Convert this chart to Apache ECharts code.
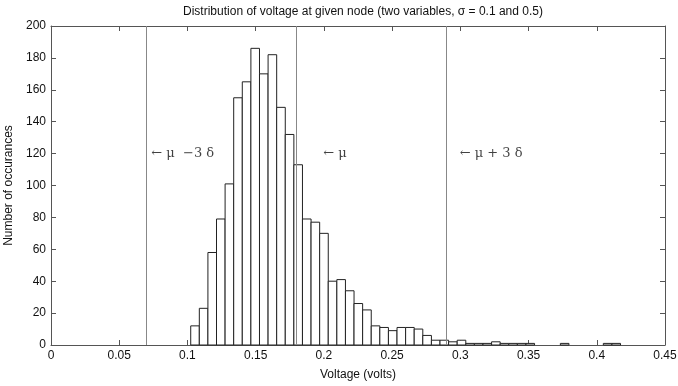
<!DOCTYPE html>
<html>
<head>
<meta charset="utf-8">
<script src="https://cdn.jsdelivr.net/npm/echarts@6/dist/echarts.min.js"></script>
<style>
  html, body { margin: 0; padding: 0; background: #fff; }
  #chart { width: 678px; height: 386px; }
</style>
</head>
<body>
<div id="chart"></div>
<script>
// histogram: 50 bins, first edge and width
var binStart = 0.1024;
var binWidth = 0.0063;
var counts = [12, 23, 58, 79, 101, 155, 165, 186, 170, 182,
              149, 132, 113, 79, 77, 70, 40, 41, 34, 26,
              22, 12, 11, 9, 11, 11, 10, 6, 3, 3,
              2, 3, 1, 1, 1, 2, 1, 1, 1, 1,
              0, 0, 0, 1, 0, 0, 0, 0, 1, 1];

// mean and +/- 3 sigma markers
var markerX = [0.0725, 0.180, 0.2875];
var markerText = ['\u2190 \u03bc  \u22123 \u03b4', '\u2190 \u03bc', '\u2190 \u03bc + 3 \u03b4'];
var markerTextX = [0.0735, 0.1995, 0.2995];
var markerTextY = 120;

var xTicks = [0, 0.05, 0.1, 0.15, 0.2, 0.25, 0.3, 0.35, 0.4, 0.45];
var yTicks = [0, 20, 40, 60, 80, 100, 120, 140, 160, 180, 200];

var bars = [];
for (var i = 0; i < counts.length; i++) {
  if (counts[i] > 0) {
    bars.push([binStart + i * binWidth, binStart + (i + 1) * binWidth, counts[i]]);
  }
}

var labelPts = [];
for (var k = 0; k < markerText.length; k++) {
  labelPts.push({ value: [markerTextX[k], markerTextY], name: markerText[k] });
}

var chart = echarts.init(document.getElementById('chart'));
var font = 'Liberation Sans, Arial, sans-serif';
var frameColor = '#555';

function axisBase(show) {
  return {
    axisLine: { show: true, onZero: false, lineStyle: { color: frameColor, width: 1 } },
    axisTick: { show: true, inside: true, length: 5, lineStyle: { color: frameColor } },
    splitLine: { show: false },
    axisLabel: { show: show, color: '#111', fontFamily: font, fontSize: 12 }
  };
}

var xBottom = Object.assign(axisBase(true), {
  type: 'value', position: 'bottom', min: 0, max: 0.45, interval: 0.05,
  name: 'Voltage (volts)', nameLocation: 'middle', nameGap: 24,
  nameTextStyle: { color: '#111', fontFamily: font, fontSize: 12 }
});
xBottom.axisLabel.margin = 5;
xBottom.axisLabel.formatter = function (v) {
  var t = xTicks.filter(function (x) { return Math.abs(x - v) < 1e-9; });
  return t.length ? String(t[0]) : '';
};
var xTop = Object.assign(axisBase(false), {
  type: 'value', position: 'top', min: 0, max: 0.45, interval: 0.05
});
var yLeft = Object.assign(axisBase(true), {
  type: 'value', position: 'left', min: yTicks[0], max: yTicks[yTicks.length - 1], interval: 20,
  name: 'Number of occurances', nameLocation: 'middle', nameGap: 31, nameRotate: 90,
  nameTextStyle: { color: '#111', fontFamily: font, fontSize: 12 }
});
yLeft.axisLabel.margin = 5;
var yRight = Object.assign(axisBase(false), {
  type: 'value', position: 'right', min: 0, max: 200, interval: 20
});

chart.setOption({
  animation: false,
  backgroundColor: '#fff',
  title: {
    text: 'Distribution of voltage at given node (two variables, \u03c3 = 0.1 and 0.5)',
    left: 358, top: 1, textAlign: 'center',
    textStyle: { fontFamily: font, fontSize: 12, fontWeight: 'normal', color: '#111' }
  },
  grid: { left: 51, right: 13, top: 26, bottom: 41, containLabel: false, outerBoundsMode: 'none' },
  xAxis: [xBottom, xTop],
  yAxis: [yLeft, yRight],
  series: [
    {
      type: 'custom',
      xAxisIndex: 0, yAxisIndex: 0,
      data: bars,
      renderItem: function (params, api) {
        var p0 = api.coord([api.value(0), api.value(2)]);
        var p1 = api.coord([api.value(1), 0]);
        return {
          type: 'rect',
          shape: { x: p0[0], y: p0[1], width: p1[0] - p0[0], height: p1[1] - p0[1] },
          style: { fill: '#fff', stroke: '#222', lineWidth: 1 }
        };
      },
      z: 3
    },
    {
      type: 'scatter',
      xAxisIndex: 0, yAxisIndex: 0,
      symbolSize: 0,
      data: labelPts,
      label: {
        show: true, position: 'right', distance: 0,
        formatter: function (p) { return p.name; },
        color: '#111', fontFamily: 'DejaVu Serif, Liberation Serif, serif', fontSize: 13
      },
      markLine: {
        silent: true, symbol: 'none',
        label: { show: false },
        lineStyle: { color: '#888', width: 1, type: 'solid' },
        data: markerX.map(function (x) { return { xAxis: x }; })
      },
      z: 2
    }
  ]
});
</script>
</body>
</html>
